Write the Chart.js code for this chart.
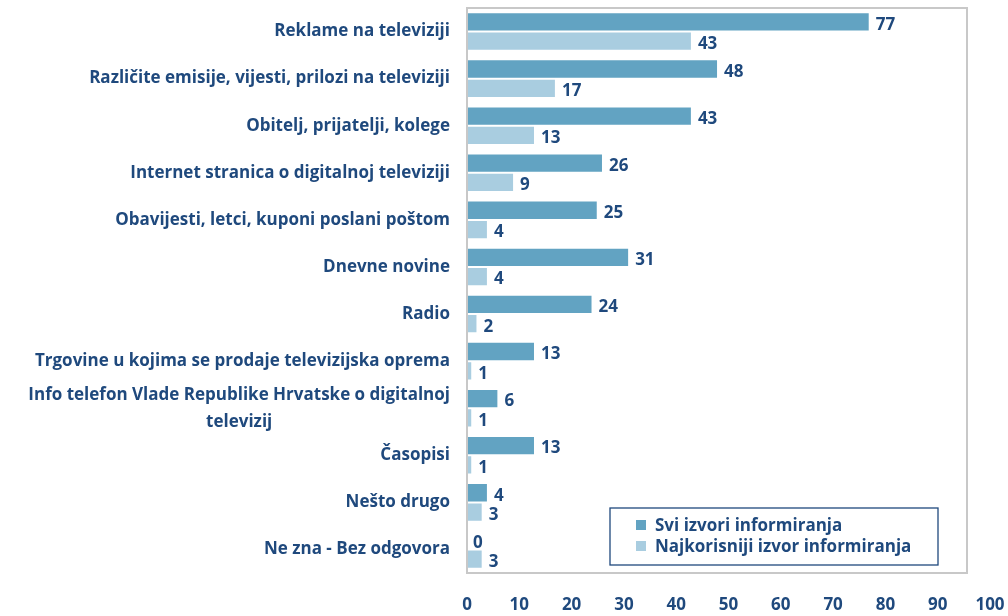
<!DOCTYPE html>
<html>
<head>
<meta charset="utf-8">
<script src="https://cdn.jsdelivr.net/npm/chart.js@4/dist/chart.umd.min.js"></script>
<style>
	html, body { margin: 0; padding: 0; background: #ffffff; }
	canvas { display: block; }
</style>
</head>
<body>
<canvas id="chart" width="1008" height="616"></canvas>
<script>
// categories (multi-line ones as arrays)
const categories = [
	"Reklame na televiziji",
	"Različite emisije, vijesti, prilozi na televiziji",
	"Obitelj, prijatelji, kolege",
	"Internet stranica o digitalnoj televiziji",
	"Obavijesti, letci, kuponi poslani poštom",
	"Dnevne novine",
	"Radio",
	"Trgovine u kojima se prodaje televizijska oprema",
	["Info telefon Vlade Republike Hrvatske o digitalnoj", "televizij"],
	"Časopisi",
	"Nešto drugo",
	"Ne zna - Bez odgovora",
];
const seriesNames = ["Svi izvori informiranja", "Najkorisniji izvor informiranja"];
const sviIzvori = [77, 48, 43, 26, 25, 31, 24, 13, 6, 13, 4, 0];
const najkorisniji = [43, 17, 13, 9, 4, 4, 2, 1, 1, 1, 3, 3];
const xTicks = [0, 10, 20, 30, 40, 50, 60, 70, 80, 90, 100];

const navy = "#1F497D";
const darkBlue = "#62A3C2";
const lightBlue = "#A9CDE0";
const fontFamily = "'Open Sans', Lato, sans-serif";

// value labels after each bar
const valueLabels = {
	id: "valueLabels",
	afterDatasetsDraw: function(chart) {
		const ctx = chart.ctx;
		ctx.save();
		ctx.font = "bold 17px " + fontFamily;
		ctx.fillStyle = navy;
		ctx.textAlign = "left";
		ctx.textBaseline = "middle";
		chart.data.datasets.forEach(function(ds, i) {
			chart.getDatasetMeta(i).data.forEach(function(bar, j) {
				ctx.fillText(String(ds.data[j]), bar.x + 6, bar.y + 3);
			});
		});
		ctx.restore();
	}
};

// category labels: right aligned, wrapped lines centred on each other
const categoryLabels = {
	id: "categoryLabels",
	afterDraw: function(chart) {
		const ctx = chart.ctx;
		const yScale = chart.scales.y;
		const right = chart.chartArea.left - 17;
		ctx.save();
		ctx.font = "bold 17px " + fontFamily;
		ctx.fillStyle = navy;
		ctx.textBaseline = "middle";
		ctx.textAlign = "center";
		categories.forEach(function(label, i) {
			const y = yScale.getPixelForValue(i);
			const lines = Array.isArray(label) ? label : [label];
			const widths = lines.map(function(l) { return ctx.measureText(l).width; });
			const maxW = Math.max.apply(null, widths);
			const lh = 27;
			const top = y - (lines.length - 1) * lh / 2;
			lines.forEach(function(l, k) {
				ctx.fillText(l, right - maxW / 2, top + k * lh);
			});
		});
		ctx.restore();
	}
};

// plot border + legend box
const frameAndLegend = {
	id: "frameAndLegend",
	afterDraw: function(chart) {
		const ctx = chart.ctx;
		const a = chart.chartArea;
		ctx.save();
		ctx.strokeStyle = "#C8C8C8";
		ctx.lineWidth = 2;
		ctx.strokeRect(a.left, a.top, 967 - a.left, a.bottom - a.top);

		// legend
		const bx = 610, by = 508, bw = 328, bh = 57;
		ctx.fillStyle = "#ffffff";
		ctx.fillRect(bx, by, bw, bh);
		ctx.strokeStyle = navy;
		ctx.lineWidth = 1.3;
		ctx.strokeRect(bx, by, bw, bh);
		ctx.font = "bold 17px " + fontFamily;
		ctx.textAlign = "left";
		ctx.textBaseline = "middle";
		chart.data.datasets.forEach(function(ds, i) {
			const y = by + 17 + i * 21;
			ctx.fillStyle = ds.backgroundColor;
			ctx.fillRect(bx + 26, y - 5, 10, 10);
			ctx.fillStyle = navy;
			ctx.fillText(ds.label, bx + 45, y + 1);
		});
		ctx.restore();
	}
};

new Chart(document.getElementById("chart"), {
	type: "bar",
	data: {
		labels: categories,
		datasets: [
			{
				label: seriesNames[0],
				data: sviIzvori,
				backgroundColor: darkBlue,
				borderColor: "rgba(255,255,255,0.6)",
				borderWidth: 1,
				categoryPercentage: 0.82,
				barPercentage: 1.0,
			},
			{
				label: seriesNames[1],
				data: najkorisniji,
				backgroundColor: lightBlue,
				borderColor: "rgba(255,255,255,0.6)",
				borderWidth: 1,
				categoryPercentage: 0.82,
				barPercentage: 1.0,
			},
		]
	},
	options: {
		indexAxis: "y",
		responsive: false,
		animation: false,
		layout: {padding: {left: 467, top: 8, right: 18, bottom: 0}},
		plugins: {
			legend: {display: false},
			tooltip: {enabled: false},
		},
		scales: {
			x: {
				min: 0,
				max: 100,
				afterBuildTicks: function(axis) {
					axis.ticks = xTicks.map(function(v) { return {value: v}; });
				},
				afterFit: function(axis) {
					axis.height = 43;
					axis.paddingLeft = 0;
					axis.paddingRight = 16;
				},
				grid: {display: false, drawTicks: false},
				border: {display: false},
				ticks: {
					padding: 22,
					color: navy,
					font: {family: fontFamily, size: 17, weight: "bold"},
				},
			},
			y: {
				display: false,
				grid: {display: false},
			},
		},
	},
	plugins: [valueLabels, categoryLabels, frameAndLegend],
});
</script>
</body>
</html>
